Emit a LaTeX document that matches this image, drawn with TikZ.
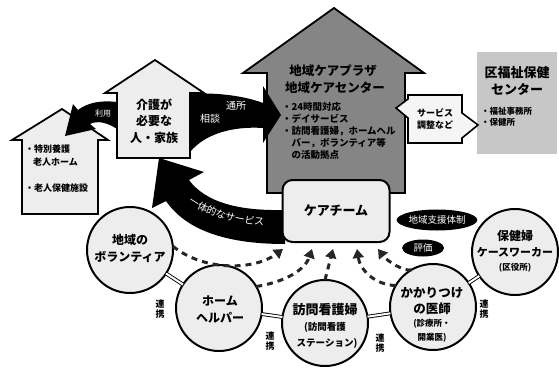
\documentclass[tikz,border=0pt]{standalone}
\usepackage{fontspec}
\setmainfont{Noto Sans CJK JP}
\usetikzlibrary{arrows.meta,calc,shapes.geometric,decorations.text}
\begin{document}
\begin{tikzpicture}[x=1pt,y=-1pt,
  every node/.style={inner sep=0pt,outer sep=0pt},
  tb/.style={font=\bfseries\fontsize{#1}{#1}\selectfont},
  tr/.style={font=\fontsize{#1}{#1}\selectfont},
  house/.style={draw=black,line width=1.8pt,line join=miter,fill=black!7},
  bighouse/.style={draw=black,line width=1.8pt,line join=miter,fill=black!48},
  circ/.style={circle,draw=black,line width=2pt,fill=black!7,minimum size=86pt},
  oval/.style={ellipse,fill=black,text=white},
  dasharrow/.style={draw=black!85,line width=3pt,dash pattern=on 6pt off 5pt,
    -{Triangle[width=11pt,length=9pt]}},
  link/.style={draw=black,double=white,double distance=2pt,line width=0.9pt},
  wtext/.style={text=white,font=\fontsize{#1}{#1}\selectfont},
]
\useasboundingbox (0,0) rectangle (559,367);

% ward welfare centre (grey box)
\node[fill=black!22,minimum width=80pt,minimum height=102pt,anchor=north west] (ward) at (477,52) {};
\node[tb=13] (ward1) at (517,73) {区福祉保健};
\node[tb=13] (ward2) at (517,89) {センター};
\node[tb=8.5,anchor=west] (ward3) at (481,111) {・福祉事務所};
\node[tb=8.5,anchor=west] (ward4) at (481,122) {・保健所};

% big house
\draw[bighouse] (267,193) -- (267,73) -- (243,73) -- (334,8) -- (424,73) -- (405,73) -- (405,193) -- cycle;
\node[tb=12.5] (bh1) at (333,71) {地域ケアプラザ};
\node[tb=12.5] (bh2) at (335,88) {地域ケアセンター};
\node[font=\bfseries\fontsize{9.5}{12}\selectfont,align=left,anchor=north west] (bh3) at (282,102)
  {・24時間対応\\・デイサービス\\・訪問看護婦，ホームヘル\\\hspace*{1em}バー，ボランティア等\\\hspace*{1em}の活動拠点};

% left house
\draw[house] (22,214) -- (22,140) -- (12,140) -- (62,109) -- (108,140) -- (98,140) -- (98,214) -- cycle;
\node[font=\bfseries\fontsize{9}{13}\selectfont,align=left,anchor=north west] (lh1) at (25,145)
  {・特別養護\\\hspace*{0.9em}老人ホーム};
\node[tb=9,anchor=west] (lh2) at (25,188) {・老人保健施設};

% small house
\draw[house] (117,158) -- (117,93) -- (105,93) -- (155,60) -- (204,93) -- (190,93) -- (190,158) -- cycle;
\node[font=\bfseries\fontsize{12}{16.5}\selectfont,align=center] (sh) at (154,121) {介護が\\必要な\\人・家族};

% black arrows
\fill (117,102) .. controls (100,100) and (87,103) .. (78,110) -- (73,104) -- (65,136) -- (96,129)
  -- (90,124) .. controls (98,120) and (108,123) .. (117,129) -- cycle;
\node[wtext=8] (riyo) at (103,114) {利用};

\fill (190,94) .. controls (215,92) and (245,96) .. (263,103) -- (263,86) -- (281,115) -- (263,143)
  -- (263,128) .. controls (232,126) and (205,134) .. (190,152) -- cycle;
\node[wtext=10] (tsusho) at (236,106) {通所};
\node[wtext=10] (sodan) at (210,119) {相談};

\fill (285,210) .. controls (240,211) and (206,203) .. (189,180) -- (204,172) -- (159,158) -- (152,208)
  -- (166,201) .. controls (190,236) and (240,244) .. (285,244) -- cycle;
\path[decorate,decoration={text along path,text align=center,
  text={|\color{white}\fontsize{10}{10}\selectfont|一体的なサービス}}]
  (170,184) .. controls (190,214) and (235,227) .. (290,227);

% service coordination block arrow
\draw[line width=1.6pt,line join=miter,fill=black!4] (408,95) -- (462,95) -- (462,113) -- (478,125)
  -- (462,138) -- (462,143) -- (408,143) -- (408,118) -- (396,108) -- (408,99) -- cycle;
\node[font=\bfseries\fontsize{9}{12.5}\selectfont,align=center] (svc) at (435,119) {サービス\\調整など};

% care team
\node[draw=black,line width=2pt,rounded corners=10pt,fill=black!7,minimum width=107pt,
  minimum height=62pt,tb=13] (team) at (336,211) {ケアチーム};

% black ovals
\node[oval,minimum width=68pt,minimum height=21pt,tr=9.5] (shien) at (437,220) {地域支援体制};
\node[oval,minimum width=42pt,minimum height=17pt,tr=9.5] (hyoka) at (423,248) {評価};

% circles
\node[circ] (vol) at (130,250) {};
\node[circ] (helper) at (219,308) {};
\node[circ] (nurse) at (325,323) {};
\node[circ] (doctor) at (433,307) {};
\node[circ] (cw) at (515,252) {};

\node[font=\bfseries\fontsize{12}{17}\selectfont,align=center] (volt) at (130,248) {地域の\\ボランティア};
\node[font=\bfseries\fontsize{12}{17}\selectfont,align=center] (helpert) at (220,309) {ホーム\\ヘルパー};
\node[tb=13] (nurse1) at (325,310) {訪問看護婦};
\node[tb=9.5] (nurse2) at (325,327) {(訪問看護};
\node[tb=9.5] (nurse3) at (327,343) {ステーション)};
\node[tb=12.5] (doc1) at (432,293) {かかりつけ};
\node[tb=12.5] (doc2) at (432,309) {の医師};
\node[tb=8.5] (doc3) at (432,324) {(診療所・};
\node[tb=8.5] (doc4) at (432,338) {開業医)};
\node[tb=12] (cw1) at (515,236) {保健婦};
\node[tb=11] (cw2) at (515,252) {ケースワーカー};
\node[tb=8.5] (cw3) at (515,268) {(区役所)};

% dashed arrows to the care team
\coordinate (t1) at (283,249);
\coordinate (t2) at (312,249);
\coordinate (t3) at (333,249);
\coordinate (t4) at (357,249);
\coordinate (t5) at (378,249);
\draw[dasharrow] (vol.5) .. controls (205,272) and (255,270) .. (t1);
\draw[dasharrow] (helper.30) .. controls (285,282) and (305,270) .. (t2);
\draw[dasharrow] (nurse.north) -- (t3);
\draw[dasharrow] (doctor.150) .. controls (375,285) and (360,270) .. (t4);
\draw[dasharrow] (doctor.120) .. controls (405,272) and (388,262) .. (t5);

% links
\draw[link] (vol) -- (helper);
\draw[link] (helper) -- (nurse);
\draw[link] (nurse) -- (doctor);
\draw[link] (doctor) -- (cw);
\node[font=\bfseries\fontsize{9}{10.5}\selectfont,align=center] (r1) at (160,309) {連\\携};
\node[font=\bfseries\fontsize{9}{10.5}\selectfont,align=center] (r2) at (270,341) {連\\携};
\node[font=\bfseries\fontsize{9}{10.5}\selectfont,align=center] (r3) at (380,343) {連\\携};
\node[font=\bfseries\fontsize{9}{10.5}\selectfont,align=center] (r4) at (484,309) {連\\携};
\end{tikzpicture}
\end{document}
